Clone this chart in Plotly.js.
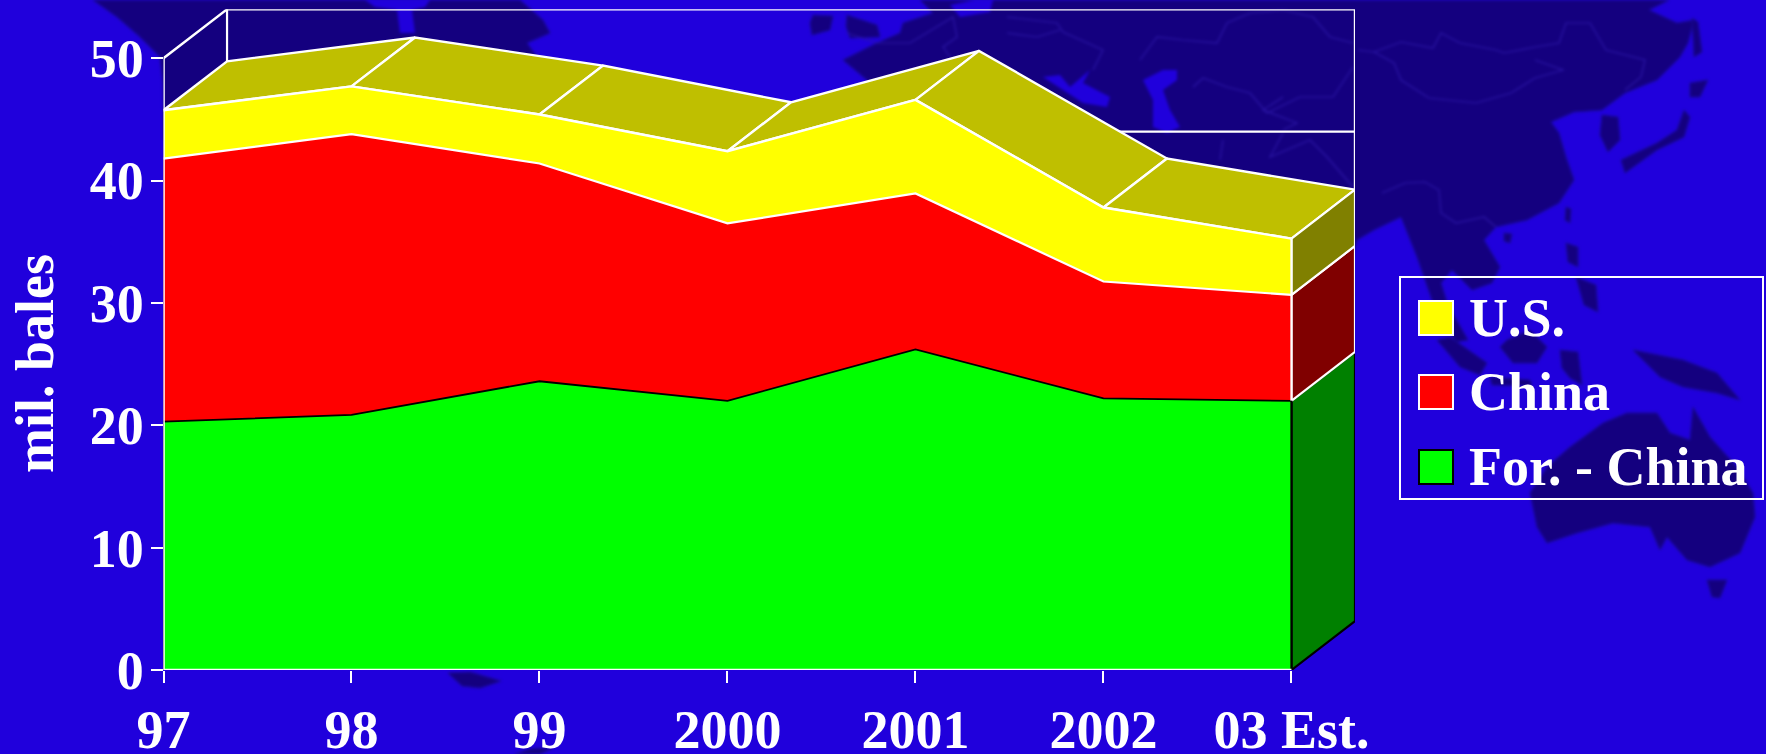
<!DOCTYPE html>
<html><head><meta charset="utf-8">
<script src="https://cdn.plot.ly/plotly-3.0.1.min.js"></script>
<style>html,body{margin:0;padding:0;background:#2000DC;overflow:hidden}#chart{width:1766px;height:754px}
.layer-below .shapelayer{filter:blur(1.4px)}</style>
</head><body><div id="chart"></div>
<script>
const categories = ["97","98","99","2000","2001","2002","03 Est."];
const foreignLessChina = [20.3,20.85,23.6,22.0,26.2,22.2,22.0];
const china = [21.5,22.95,17.8,14.5,12.75,9.55,8.66];
const us = [3.95,3.9,4.0,5.9,7.65,6.05,4.6];
const yTicks = [0,10,20,30,40,50];
const legendNames = ["U.S.","China","For. - China"];

// Oblique depth of the pseudo-3D box, in axis units
const depthX = 0.338, depthY = 4;
const W = 1766, H = 754;
const OCEAN = "#2000DC", LAND = "#14007F", BORDER = "#2C16A6";
const FONT = "Liberation Serif, Times New Roman, serif";

// Decorative background map (page pixels)
const landMasses = [
 [[93,0],[117,17],[140,37],[160,57],[163,83],[164,140],[230,140],[560,70],[537,57],[527,43],[550,33],[543,20],[520,0]],
 [[813,15],[833,16],[830,30],[812,35],[810,23]],
 [[847,15],[877,25],[880,37],[850,38],[846,26]],
 [[867,80],[843,60],[877,43],[900,33],[903,23],[933,13],[920,0],[1669,0],[1649,10],[1677,23],[1694,20],[1688,43],[1680,57],[1657,80],[1625,93],[1602,110],[1574,112],[1551,122],[1559,133],[1566,157],[1574,180],[1559,203],[1527,220],[1496,227],[1484,240],[1500,267],[1492,283],[1472,290],[1452,270],[1441,283],[1448,305],[1468,340],[1456,342],[1432,300],[1417,257],[1401,217],[1374,230],[1357,240],[1340,300],[900,300]],
 [[1602,115],[1618,117],[1620,140],[1608,152],[1600,135]],
 [[1621,160],[1657,143],[1677,130],[1684,110],[1690,117],[1684,137],[1657,150],[1625,173]],
 [[1690,83],[1708,80],[1700,97],[1690,97]],
 [[1692,18],[1698,22],[1702,52],[1694,57]],
 [[1566,207],[1571,209],[1570,223],[1565,220]],
 [[1504,233],[1512,234],[1510,243],[1504,241]],
 [[1566,243],[1578,247],[1578,267],[1568,262]],
 [[1576,277],[1596,285],[1598,312],[1584,305]],
 [[1507,340],[1530,330],[1547,347],[1537,363],[1513,363],[1500,347]],
 [[1437,340],[1450,337],[1487,363],[1480,375],[1460,367]],
 [[1560,350],[1578,352],[1582,385],[1570,378],[1562,368]],
 [[1490,377],[1530,380],[1532,386],[1492,385]],
 [[1633,350],[1683,360],[1717,373],[1740,400],[1717,393],[1683,387],[1660,377]],
 [[1570,447],[1603,423],[1627,413],[1657,413],[1670,433],[1690,440],[1693,407],[1710,437],[1737,467],[1753,493],[1755,517],[1740,553],[1710,567],[1687,560],[1667,537],[1660,550],[1650,527],[1613,523],[1577,533],[1547,543],[1537,527],[1530,493],[1547,467]],
 [[1707,580],[1727,580],[1720,598],[1712,597]],
 [[448,673],[470,672],[501,681],[480,688],[462,686]],
 [[515,754],[530,749],[553,748],[540,754]]
];
const waterBodies = [
 [[365,0],[430,0],[425,7],[412,10],[415,33],[400,33],[397,10],[375,7]],
 [[950,5],[975,0],[993,0],[990,12],[960,17]],
 [[1043,77],[1060,75],[1070,87],[1090,70],[1083,83],[1110,97],[1107,107],[1083,103],[1063,90]],
 [[1143,80],[1163,70],[1177,70],[1177,80],[1163,90],[1170,110],[1180,127],[1167,133],[1153,127],[1153,100]]
];
const borderLines = [
 [[1358,50],[1374,52],[1401,42],[1433,48],[1441,33],[1460,43],[1496,50],[1504,53],[1535,47],[1559,43],[1566,23],[1590,23],[1606,50],[1645,60],[1641,77],[1625,90]],
 [[1535,60],[1563,70],[1535,78],[1511,93],[1476,103],[1429,98],[1401,80],[1394,63],[1374,52]],
 [[1382,193],[1405,183],[1425,182],[1439,190],[1441,213],[1456,223],[1484,217],[1496,227]],
 [[1140,60],[1157,37],[1183,40],[1217,43],[1227,23],[1250,13],[1283,10],[1313,17],[1330,37],[1353,43]],
 [[1193,87],[1203,78],[1227,87],[1250,93],[1267,113],[1300,97],[1333,97],[1353,67]],
 [[1283,97],[1263,110],[1297,123],[1283,130]],
 [[1223,140],[1220,160]],[[1283,133],[1270,157],[1310,140],[1327,157],[1353,187]],
 [[1007,17],[1057,23],[1063,32],[1103,50],[1093,70]],
 [[1007,33],[1037,37],[1060,30]],
 [[847,33],[877,43],[910,43],[953,17],[957,37],[943,47],[950,57]]
];

function px(x){return (x/W).toFixed(5);}
function py(y){return (1-y/H).toFixed(5);}
function toPath(pts,close){return "M"+pts.map(p=>px(p[0])+","+py(p[1])).join("L")+(close?"Z":"");}
const bgShape=(path,fill,line)=>({type:"path",xref:"paper",yref:"paper",layer:"below",path,fillcolor:fill,line:line});

const shapes=[];
landMasses.forEach(p=>shapes.push(bgShape(toPath(p,true),LAND,{width:1,color:"#1A0A98"})));
waterBodies.forEach(p=>shapes.push(bgShape(toPath(p,true),OCEAN,{width:0})));
borderLines.forEach(p=>shapes.push(bgShape(toPath(p,false),"rgba(0,0,0,0)",{width:1.2,color:BORDER})));

// Stacked tops
const xs=categories.map((c,i)=>i);
const topGreen=foreignLessChina.slice();
const topChina=topGreen.map((v,i)=>v+china[i]);
const topUS=topChina.map((v,i)=>v+us[i]);
const last=xs.length-1;
const xMax=last+depthX, yMax=50+depthY;

const base={type:"scatter",mode:"lines",hoverinfo:"skip",showlegend:false,cliponaxis:false};
const line=(x,y,color,width,name)=>Object.assign({},base,{x,y,name,line:{color,width:width||2.4,shape:"linear"}});
const poly=(x,y,fill,color,width,name)=>Object.assign({},base,{x,y,name,fill:"toself",fillcolor:fill,line:{color,width:width||2.4}});

const traces=[];
// back wall gridline and frame
traces.push(line([depthX,xMax],[40+depthY,40+depthY],"#FFFFFF",2.2,"gridline 40"));
traces.push(line([0,depthX,xMax,xMax],[50,50+depthY,50+depthY,depthY],"#FFFFFF",2.4,"frame"));
traces.push(line([depthX,depthX],[topUS[0]+depthY,50+depthY],"#FFFFFF",2.2,"frame left"));
// top surface of the stack
for(let i=0;i<last;i++){
  traces.push(poly([i,i+1,i+1+depthX,i+depthX,i],
    [topUS[i],topUS[i+1],topUS[i+1]+depthY,topUS[i]+depthY,topUS[i]],"#BFBF00","#FFFFFF",2.4,"top "+i));
}
// right side faces
const side=(hi,lo,fill,col,name)=>poly([last,xMax,xMax,last,last],[hi,hi+depthY,lo+depthY,lo,hi],fill,col,2.2,name);
traces.push(side(topGreen[last],0,"#008000","#000000","side For. - China"));
traces.push(side(topChina[last],topGreen[last],"#800000","#FFFFFF","side China"));
traces.push(side(topUS[last],topChina[last],"#808000","#FFFFFF","side U.S."));
// front faces
const front=(y,fill,col,w,name)=>Object.assign({},base,{x:xs,y,name,fill:"tozeroy",fillcolor:fill,line:{color:col,width:w}});
traces.push(front(topUS,"#FFFF00","#FFFFFF",2.4,legendNames[0]));
traces.push(front(topChina,"#FF0000","#FFFFFF",2.2,legendNames[1]));
traces.push(front(topGreen,"#00FF00","#000000",1.8,legendNames[2]));
// edges
traces.push(line([last,last],[topGreen[last],topUS[last]],"#FFFFFF",2.2,"front right edge"));
traces.push(line([last,last],[0,topGreen[last]],"#000000",2.2,"front right edge green"));
traces.push(line([0,0],[0,50],"#FFFFFF",2.6,"y axis line"));
traces.push(line([0,last],[0,0],"#FFFFFF",2.6,"x axis line"));

// legend drawn at its page position
const legendColors=["#FFFF00","#FF0000","#00FF00"];
const legendEdges=["#FFFFFF","#FFFFFF","#000000"];
const legendTops=[301,375,450];
const pathBox=(x0,y0,x1,y1)=>toPath([[x0,y0],[x1,y0],[x1,y1],[x0,y1]],true);
shapes.push({type:"path",xref:"paper",yref:"paper",layer:"above",path:pathBox(1400,277,1763,499),fillcolor:"rgba(0,0,0,0)",line:{color:"#FFFFFF",width:2}});
legendColors.forEach((c,i)=>shapes.push({type:"path",xref:"paper",yref:"paper",layer:"above",path:pathBox(1419,legendTops[i],1453,legendTops[i]+34),fillcolor:c,line:{color:legendEdges[i],width:2}}));

const anno=(text,x,y,extra)=>Object.assign({xref:"paper",yref:"paper",x:x/W,y:1-y/H,text,showarrow:false,
  font:{family:FONT,size:54,color:"#FFFFFF",weight:700},xanchor:"left",yanchor:"middle"},extra||{});
const annotations=legendNames.map((n,i)=>anno(n,1467,legendTops[i]+17));
annotations.push(anno("mil. bales",35,364,{textangle:-90,xanchor:"center"}));

const tickStyle={ticks:"outside",ticklen:12,tickwidth:2,tickcolor:"#FFFFFF",showgrid:false,zeroline:false,showline:false,
  tickfont:{family:FONT,size:54,color:"#FFFFFF",weight:700},fixedrange:true};
const layout={width:W,height:H,margin:{l:0,r:0,t:0,b:0},paper_bgcolor:OCEAN,plot_bgcolor:"rgba(0,0,0,0)",showlegend:false,
  xaxis:Object.assign({},tickStyle,{domain:[163.5/W,1355/W],range:[0,xMax],tickmode:"array",tickvals:xs,ticktext:categories,ticklabelstandoff:0,tickangle:0}),
  yaxis:Object.assign({},tickStyle,{domain:[(H-670)/H,(H-9.3)/H],range:[0,yMax],tickmode:"array",tickvals:yTicks,ticktext:yTicks.map(String),ticklabelstandoff:-4}),
  shapes,annotations};
Plotly.newPlot("chart",traces,layout,{displayModeBar:false,staticPlot:true});
</script></body></html>
